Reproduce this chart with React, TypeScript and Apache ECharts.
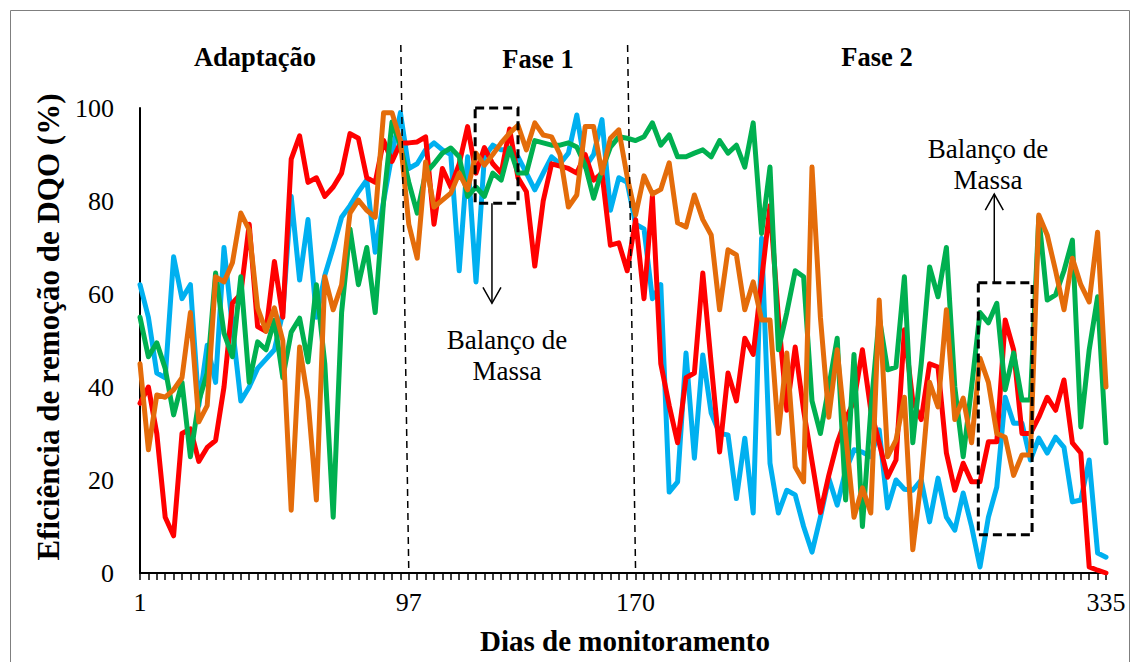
import React, { useEffect, useRef } from "react";
import * as echarts from "echarts";

// Eficiência de remoção de DQO (%) por amostra, quatro reatores
const serieAzul = [
  62, 55, 43, 42, 68, 59, 62, 36, 49, 41, 70, 53, 37, 40, 44, 46, 48, 56, 81, 63,
  76, 55, 64, 70, 76.5, 79, 82, 84.5, 69, 80, 90, 99, 87, 88, 91, 92.5, 91, 90, 65, 89.5,
  62.6, 89.5, 92, 91, 91, 89.5, 86, 82.4, 86, 89.5, 88, 90.3, 98.5, 87.3, 90, 97.5, 78, 85, 84, 75,
  74, 59, 62, 17.4, 19.6, 47.3, 24.7, 46.9, 34.4, 30, 29.7, 16, 29, 12.9, 72, 23.6, 12.9, 17.8, 16.8, 10,
  4.5, 12, 20.4, 14.6, 22, 26.5, 26, 25, 30.8, 14, 20, 18, 17.8, 20, 11, 20.4, 12, 9.2, 17.2, 10,
  1.3, 12, 18.5, 37.8, 32.2, 32.2, 24.3, 29, 25.8, 29.2, 27, 15.3, 15.7, 24.3, 4.3, 3.4,
];

const serieVermelha = [
  36.5, 40, 30, 12, 8, 30, 31, 24, 27, 28.5, 40, 58, 60, 75, 53, 52, 67, 55, 89, 94,
  84, 85, 81, 83, 86, 94.5, 93.5, 85, 84, 93, 88.5, 92.5, 92.5, 92.7, 93.8, 75, 87, 83, 88, 96,
  86, 91.5, 88, 86, 95.5, 85, 82, 66, 80, 88, 87.5, 87, 86, 90, 84.5, 86, 70.5, 71, 65, 76,
  59, 81, 45, 36, 28, 42, 43, 64.5, 45, 26, 43, 37, 50.5, 47, 63, 79, 55, 35, 48.6, 35,
  24, 13, 21, 28, 33, 37, 48, 35, 28, 20.6, 24.3, 52.3, 37, 33, 45, 44.3, 25.8, 17.8, 23.6, 19.6,
  19.6, 28.2, 28.2, 54.4, 48, 30, 30, 33.5, 37.8, 35, 41.5, 28, 25.8, 1.3, 0.6, 0,
];

const serieVerde = [
  55, 46.5, 49.5, 44, 34, 41, 25, 37, 43, 64.5, 51.6, 46.5, 63.7, 41, 49.7, 48, 54.4, 42, 51.8, 54.8,
  45.4, 62, 45, 12, 56, 74, 62, 70, 56, 80, 97, 92, 84, 77.4, 86, 88, 90.3, 91.4, 89.5, 81,
  83, 81, 86, 84.5, 91.4, 86, 86, 93, 92.5, 92, 92, 92.5, 91.6, 87.7, 80.6, 86.7, 91.6, 93.8, 93.5, 93,
  93.8, 96.8, 92, 94.2, 89.5, 89.5, 90.3, 91, 89.5, 93, 90.3, 92, 87.3, 96.8, 73, 87.3, 48, 56, 65, 63.7,
  37, 30, 40, 50.5, 15.7, 47, 10, 35, 55, 43.7, 44.3, 63.7, 28, 45, 65.8, 59.4, 70, 40, 25, 40,
  56, 53.8, 58, 39.4, 47.3, 37.2, 37.2, 76.6, 58.7, 59.8, 65, 71.6, 31.4, 48, 59.4, 28,
];

const serieLaranja = [
  45, 26.5, 38.3, 37.8, 39.4, 42, 56, 32.5, 36, 63.7, 62.6, 66.7, 77.4, 73.8, 57, 52, 57, 50, 13.5, 48.6,
  37.2, 15.7, 63.7, 56.6, 62, 77.4, 80.2, 78, 76.5, 99, 99, 93, 75, 67.7, 88.4, 78.7, 80.2, 81.7, 86, 82.4,
  90.3, 87.7, 90, 92.5, 94.6, 96.3, 91, 96.8, 94.2, 93.8, 90, 78.7, 81.3, 96, 96, 86, 93.5, 95.3, 85.2, 77,
  85.4, 81.5, 82.5, 88.2, 75.3, 74.4, 81.3, 76, 72.7, 56.6, 69.5, 68.4, 56.6, 62.6, 54.4, 54.4, 30, 47.3, 22.8, 19.6,
  87.3, 55, 33.5, 48, 30, 12, 18.3, 12.9, 58.7, 25, 28.6, 37.8, 5, 20, 41, 35.7, 56.6, 33, 37.6, 28,
  46.2, 41, 30, 29.2, 21, 25.4, 25.4, 77, 72.7, 65, 56.6, 67.7, 62, 58.3, 73.3, 40,
];

// Dias rotulados no eixo horizontal e a posição da amostra correspondente
const diasRotulo = ["1", "97", "170", "335"];
const diasIndice = [0, 32, 59, 115];

// Limites das fases (índice da amostra)
const limitesFase = [32, 59];

const eixoY = { min: 0, max: 100, intervalo: 20 };

const amostras = serieVermelha.map((_, i) => String(i));

const FONTE = "'Liberation Serif', 'Times New Roman', serif";

function linha(nome: string, dados: number[], cor: string) {
  return {
    name: nome,
    type: "line",
    data: dados,
    showSymbol: false,
    symbol: "none",
    lineStyle: { color: cor, width: 5, cap: "round", join: "round" },
    itemStyle: { color: cor },
  };
}

export default function App() {
  const ref = useRef<HTMLDivElement>(null);

  useEffect(() => {
    if (!ref.current) return;
    const chart = echarts.init(ref.current, null, { renderer: "svg" });

    chart.setOption({
      animation: false,
      backgroundColor: "#ffffff",
      grid: {
        left: 140,
        top: 108,
        width: 966,
        height: 465,
        outerBoundsMode: "none",
      },
      xAxis: {
        type: "category",
        data: amostras,
        boundaryGap: false,
        axisLine: { show: true, lineStyle: { color: "#000", width: 2 } },
        axisTick: {
          show: true,
          interval: 0,
          inside: false,
          length: 7,
          lineStyle: { color: "#000", width: 1.5 },
        },
        axisLabel: {
          interval: (index: number) => diasIndice.includes(index),
          formatter: (_v: string, index: number) => {
            const k = diasIndice.indexOf(index);
            return k >= 0 ? diasRotulo[k] : "";
          },
          color: "#000",
          fontFamily: FONTE,
          fontSize: 26,
          margin: 16,
        },
        splitLine: { show: false },
      },
      yAxis: {
        type: "value",
        min: eixoY.min,
        max: eixoY.max,
        interval: eixoY.intervalo,
        axisLine: { show: true, lineStyle: { color: "#000", width: 2 } },
        axisTick: { show: false },
        axisLabel: {
          color: "#000",
          fontFamily: FONTE,
          fontSize: 26,
          margin: 26,
        },
        splitLine: { show: false },
      },
      series: [
        linha("Azul", serieAzul, "#00B0F0"),
        linha("Vermelha", serieVermelha, "#FF0000"),
        linha("Verde", serieVerde, "#00B050"),
        linha("Laranja", serieLaranja, "#E46C0A"),
      ],
    });

    const xa = chart.convertToPixel({ xAxisIndex: 0 }, 0) as number;
    const xb = chart.convertToPixel({ xAxisIndex: 0 }, amostras.length - 1) as number;
    const passo = (xb - xa) / (amostras.length - 1);
    const px = (i: number) => xa + i * passo;
    const py = (v: number) => chart.convertToPixel({ yAxisIndex: 0 }, v) as number;
    const y0 = py(0);

    const textoBase = {
      fill: "#000",
      fontFamily: FONTE,
      align: "center",
      verticalAlign: "middle",
      textAlign: "center",
      textVerticalAlign: "middle",
    };

    const traco = { stroke: "#000", lineWidth: 3, lineDash: [9, 5], fill: "none" };
    const seta = { stroke: "#000", lineWidth: 1.5, fill: "none" };

    const caixa = (i0: number, i1: number, vBaixo: number, vAlto: number) => ({
      type: "rect",
      shape: { x: px(i0), y: py(vAlto), width: px(i1) - px(i0), height: py(vBaixo) - py(vAlto) },
      style: traco,
      z: 100,
    });

    const xs1 = px(41.9);
    const xs2 = px(101.7);
    const baixo1 = py(79.5);
    const ponta1 = py(58);
    const topo2 = py(62.4);
    const ponta2 = py(81.5);

    chart.setOption({
      graphic: [
        {
          type: "rect",
          shape: { x: 10.5, y: 10.5, width: 1119, height: 720 },
          style: { fill: "none", stroke: "#7f7f7f", lineWidth: 1 },
          z: 1,
        },
        ...limitesFase.map((i) => ({
          type: "line",
          shape: { x1: px(i) - 8, y1: 45, x2: px(i), y2: y0 },
          style: { stroke: "#000", lineWidth: 1.5, lineDash: [7, 5] },
          z: 100,
        })),
        { type: "text", x: 255, y: 57, style: { ...textoBase, text: "Adaptação", fontSize: 26.5, fontWeight: "bold" }, z: 100 },
        { type: "text", x: 538, y: 59, style: { ...textoBase, text: "Fase 1", fontSize: 26.5, fontWeight: "bold" }, z: 100 },
        { type: "text", x: 877, y: 57, style: { ...textoBase, text: "Fase 2", fontSize: 26.5, fontWeight: "bold" }, z: 100 },
        caixa(39.9, 45.0, 79.5, 100),
        caixa(99.8, 106.2, 8.2, 62.4),
        { type: "line", shape: { x1: xs1, y1: baixo1, x2: xs1, y2: ponta1 }, style: seta, z: 100 },
        { type: "polyline", shape: { points: [[xs1 - 9, ponta1 - 16], [xs1, ponta1], [xs1 + 9, ponta1 - 16]] }, style: seta, z: 100 },
        { type: "line", shape: { x1: xs2, y1: topo2, x2: xs2, y2: ponta2 }, style: seta, z: 100 },
        { type: "polyline", shape: { points: [[xs2 - 9, ponta2 + 16], [xs2, ponta2], [xs2 + 9, ponta2 + 16]] }, style: seta, z: 100 },
        { type: "text", x: 507, y: 340, style: { ...textoBase, text: "Balanço de", fontSize: 27 }, z: 100 },
        { type: "text", x: 507, y: 371, style: { ...textoBase, text: "Massa", fontSize: 27 }, z: 100 },
        { type: "text", x: 988, y: 149, style: { ...textoBase, text: "Balanço de", fontSize: 27 }, z: 100 },
        { type: "text", x: 988, y: 180, style: { ...textoBase, text: "Massa", fontSize: 27 }, z: 100 },
        {
          type: "text",
          x: 48,
          y: 327,
          rotation: Math.PI / 2,
          style: { ...textoBase, text: "Eficiência de remoção de DQO (%)", fontSize: 31, fontWeight: "bold" },
          z: 100,
        },
        {
          type: "text",
          x: 625,
          y: 641,
          style: { ...textoBase, text: "Dias de monitoramento", fontSize: 29, fontWeight: "bold" },
          z: 100,
        },
      ],
    });

    return () => chart.dispose();
  }, []);

  return (
    <div
      ref={ref}
      style={{ position: "fixed", left: 0, top: 0, width: 1139, height: 662, background: "#fff" }}
    />
  );
}
